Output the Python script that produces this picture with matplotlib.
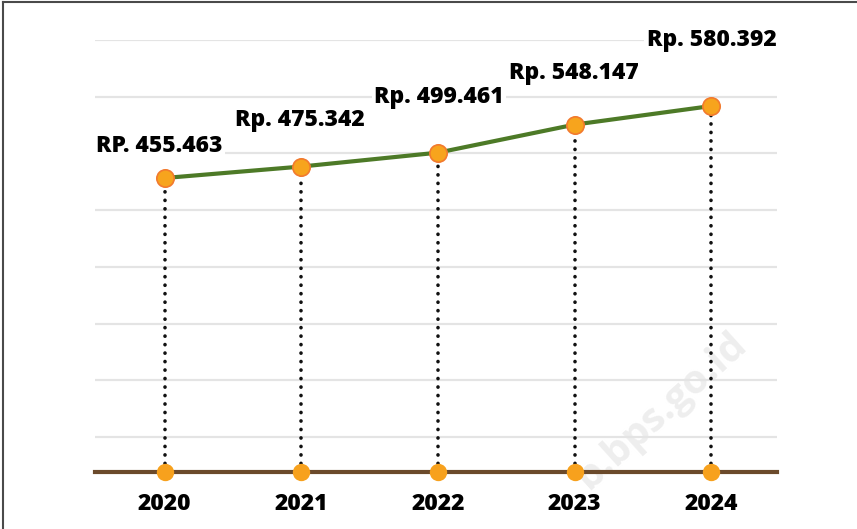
import matplotlib.pyplot as plt
from matplotlib.lines import Line2D

years = ['2020', '2021', '2022', '2023', '2024']
values = [455463, 475342, 499461, 548147, 580392]
labels = ['RP. 455.463', 'Rp. 475.342', 'Rp. 499.461', 'Rp. 548.147', 'Rp. 580.392']

# label offsets in pixels (dx, dy) relative to each point
label_offsets = [(-5, 26), (-2, 41), (1, 50), (-1, 46), (0, 60)]

plt.rcParams['font.family'] = ['Open Sans', 'DejaVu Sans']

W, H = 857, 529
fig = plt.figure(figsize=(W / 100, H / 100), dpi=100)
ax = fig.add_axes([95 / W, (H - 472) / H, 682 / W, (472 - 40) / H])
ax.patch.set_alpha(0)

x = list(range(len(years)))

# vertical scale: pixels per value
s = (values[4] - values[0]) / (178 - 106)
ylo = values[0] - (472 - 178) * s
yhi = values[4] + (106 - 40) * s
ax.set_ylim(ylo, yhi)
ax.set_xlim(-0.51, 4.48)

ax.set_yticks([yhi - k * 56.7 * s for k in range(8)])
ax.yaxis.grid(True, color='#e4e4e4', linewidth=1.6, zorder=0)
ax.set_axisbelow(True)
ax.tick_params(left=False, bottom=False, labelleft=False, labelbottom=False)
for sp in ax.spines.values():
    sp.set_visible(False)

# dotted drop lines
ax.vlines(x, ylo, values, colors='#111111', linewidth=2.6,
          linestyles=(0, (0.05, 2.3)), capstyle='round', zorder=2)

# baseline
ax.axhline(ylo, color='#6b4a2b', linewidth=3, zorder=3, clip_on=False)
ax.plot(x, [ylo] * len(x), 'o', color='#f7a11d', markersize=12.5,
        markeredgewidth=0, zorder=4, clip_on=False)

# main line
ax.plot(x, values, color='#4d7a27', linewidth=3, marker='o', markersize=12.5,
        markerfacecolor='#f7a41d', markeredgecolor='#f27a2e',
        markeredgewidth=1.2, zorder=5, clip_on=False)

for xi, v, lab, (dx, dy) in zip(x, values, labels, label_offsets):
    ax.annotate(lab, (xi, v), xytext=(dx, dy), textcoords='offset pixels',
                ha='center', va='baseline', fontsize=16.5, fontweight='heavy',
                color='#000000', zorder=6,
                bbox=dict(boxstyle='square,pad=0.1', fc='white', ec='none'))

for xi, yr in zip(x, years):
    ax.annotate(yr, (xi, ylo), xytext=(0, -38), textcoords='offset pixels',
                ha='center', va='baseline', fontsize=16.5, fontweight='heavy',
                color='#000000', annotation_clip=False)

# watermark
fig.text(742 / W, 1 - 338 / H, 'b.bps.go.id', rotation=42, rotation_mode='anchor',
         ha='right', va='center', fontsize=29, fontweight='bold',
         color='#eeeeee', zorder=-1)

# frame (top and left edges)
fig.add_artist(Line2D([3 / W, 1], [1 - 2 / H, 1 - 2 / H], color='#4a4a4a', linewidth=1.5))
fig.add_artist(Line2D([3 / W, 3 / W], [0, 1 - 2 / H], color='#4a4a4a', linewidth=1.5))

plt.savefig('out.png', dpi=100)
